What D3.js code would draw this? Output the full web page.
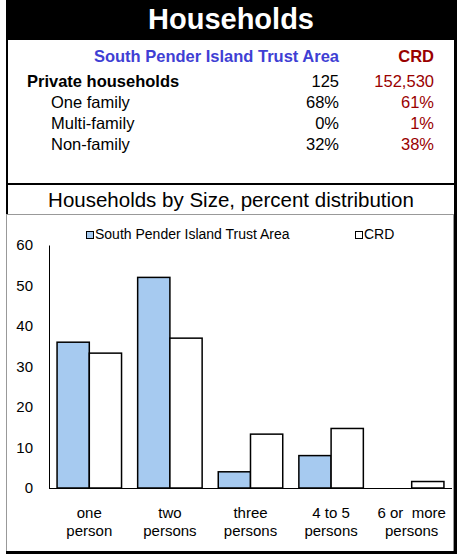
<!DOCTYPE html>
<html><head><meta charset="utf-8">
<script src="https://cdn.jsdelivr.net/npm/d3@7"></script>
<style>
html,body{margin:0;padding:0;background:#fff;}
svg{display:block;font-family:"Liberation Sans",Arial,sans-serif;}
</style></head>
<body>
<svg id="c" width="457" height="554"></svg>
<script>
// ---- data ----
const tableRows = ["Private households", "One family", "Multi-family", "Non-family"];
const tableSPI = ["125", "68%", "0%", "32%"];
const tableCRD = ["152,530", "61%", "1%", "38%"];
const categories = [["one", "person"], ["two", "persons"], ["three", "persons"], ["4 to 5", "persons"], ["6 or  more", "persons"]];
const seriesNames = ["South Pender Island Trust Area", "CRD"];
const spiValues = [36, 52, 4, 8, 0];
const crdValues = [33.3, 37, 13.3, 14.7, 1.6];
const yTicks = [0, 10, 20, 30, 40, 50, 60];

const svg = d3.select("#c");

// ---- frame ----
svg.append("rect").attr("x", 6).attr("y", 0).attr("width", 451).attr("height", 40).attr("fill", "#000");
svg.append("text").attr("x", 231).attr("y", 29).attr("text-anchor", "middle")
  .attr("fill", "#fff").attr("font-weight", "bold").attr("font-size", 29).text("Households");
svg.append("rect").attr("x", 6).attr("y", 40).attr("width", 2).attr("height", 175).attr("fill", "#000");
svg.append("rect").attr("x", 6).attr("y", 183).attr("width", 451).attr("height", 2).attr("fill", "#000");
svg.append("rect").attr("x", 6.5).attr("y", 214.5).attr("width", 447).attr("height", 337)
  .attr("fill", "none").attr("stroke", "#999").attr("stroke-width", 1);
svg.append("rect").attr("x", 454).attr("y", 0).attr("width", 3).attr("height", 554).attr("fill", "#000");
svg.append("rect").attr("x", 6).attr("y", 551).attr("width", 451).attr("height", 3).attr("fill", "#000");

// ---- table ----
const blue = "#3f3fd4", red = "#990000";
svg.append("text").attr("x", 339).attr("y", 62).attr("text-anchor", "end").attr("fill", blue)
  .attr("font-weight", "bold").attr("font-size", 16.5).text(seriesNames[0]);
svg.append("text").attr("x", 434).attr("y", 62).attr("text-anchor", "end").attr("fill", red)
  .attr("font-weight", "bold").attr("font-size", 16.5).text(seriesNames[1]);
const rowY = [87, 108, 129, 150];
tableRows.forEach((r, i) => {
  svg.append("text").attr("x", i === 0 ? 27 : 51).attr("y", rowY[i]).attr("font-size", 16.5)
    .attr("font-weight", i === 0 ? "bold" : "normal").attr("fill", "#000").text(r);
  svg.append("text").attr("x", 339).attr("y", rowY[i]).attr("text-anchor", "end").attr("font-size", 16.5)
    .attr("fill", "#000").text(tableSPI[i]);
  svg.append("text").attr("x", 434).attr("y", rowY[i]).attr("text-anchor", "end").attr("font-size", 16.5)
    .attr("fill", red).text(tableCRD[i]);
});

// ---- chart title ----
svg.append("text").attr("x", 231).attr("y", 207).attr("text-anchor", "middle").attr("font-size", 20.5)
  .attr("fill", "#000").text("Households by Size, percent distribution");

// ---- chart ----
const x0 = 49, x1 = 452, yTop = 245, yBot = 488;
const x = d3.scaleBand().domain(d3.range(categories.length)).range([x0, x1]).paddingInner(0.2).paddingOuter(0.1);
const xs = d3.scaleBand().domain([0, 1]).range([0, x.bandwidth()]);
const y = d3.scaleLinear().domain([0, 60]).range([yBot, yTop]);
const fills = ["#a6caf0", "#ffffff"];
const data = [spiValues, crdValues];

const g = svg.append("g");
categories.forEach((c, i) => {
  data.forEach((vals, s) => {
    if (vals[i] <= 0) return;
    g.append("rect").attr("x", x(i) + xs(s)).attr("y", y(vals[i]))
      .attr("width", xs.bandwidth()).attr("height", y(0) - y(vals[i]))
      .attr("fill", fills[s]).attr("stroke", "#000").attr("stroke-width", 1.5);
  });
});

const yAxis = svg.append("g").attr("transform", `translate(${x0},0)`)
  .call(d3.axisLeft(y).tickValues(yTicks).tickSize(0).tickPadding(16).tickFormat(d3.format("d")));
yAxis.select(".domain").attr("stroke", "#000");
yAxis.selectAll("text").attr("font-size", 15).attr("font-family", "Liberation Sans, Arial, sans-serif").attr("fill", "#000");

const xAxis = svg.append("g").attr("transform", `translate(0,${yBot})`)
  .call(d3.axisBottom(x).tickSize(0).tickFormat(""));
xAxis.select(".domain").attr("stroke", "#000").attr("d", `M${x0},0.5H${x1}`);
categories.forEach((c, i) => {
  const cx = x(i) + x.bandwidth() / 2;
  c.forEach((line, k) => {
    svg.append("text").attr("x", cx).attr("y", 518 + k * 18).attr("text-anchor", "middle")
      .attr("font-size", 15).attr("fill", "#000").attr("xml:space", "preserve").style("white-space", "pre").text(line);
  });
});

// ---- legend ----
const legX = [86, 355];
seriesNames.forEach((n, s) => {
  svg.append("rect").attr("x", legX[s] + 0.5).attr("y", 231.5).attr("width", 7).attr("height", 7)
    .attr("fill", fills[s]).attr("stroke", "#000").attr("stroke-width", 1);
  svg.append("text").attr("x", legX[s] + 9).attr("y", 239).attr("font-size", 14).attr("fill", "#000").text(n);
});
</script>
</body></html>
